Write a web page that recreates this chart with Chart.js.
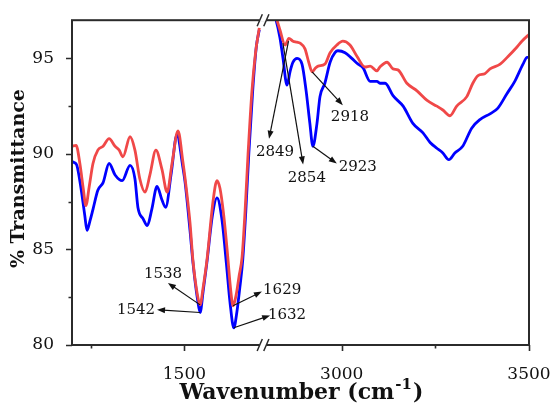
<!DOCTYPE html>
<html>
<head>
<meta charset="utf-8">
<script src="https://cdn.jsdelivr.net/npm/chart.js@4.4.0/dist/chart.umd.min.js"></script>
<style>
  body { margin: 0; background: #fff; }
</style>
</head>
<body>
<canvas id="ftir" width="553" height="403"></canvas>
<script>
// x axis is broken: 1200-1700 then 2800-3500
const breakLow = 1700;
const breakHigh = 2800;
const breakShift = 1080;

const redWaveLow = [1200, 1211, 1221, 1230, 1237, 1246, 1256, 1269, 1283, 1299, 1315, 1326, 1336, 1355, 1368, 1381, 1395, 1408, 1424, 1440, 1454, 1467, 1483, 1496, 1502, 1515, 1523, 1535, 1542, 1550, 1560, 1577, 1587, 1595, 1605, 1615, 1623, 1630, 1638, 1646, 1654, 1662, 1670, 1680, 1690, 1700];
const redLow = [90.4, 90.45, 89.5, 88.2, 87.3, 88.3, 89.5, 90.2, 90.4, 90.8, 90.4, 90.2, 89.85, 90.9, 90.2, 88.7, 88.0, 88.9, 90.2, 89.2, 88.0, 89.5, 91.2, 89.6, 88.7, 86.4, 84.4, 82.6, 82.1, 83.0, 84.4, 87.6, 88.6, 88.2, 86.8, 84.8, 83.0, 82.05, 82.6, 83.6, 84.6, 87.0, 90.0, 93.2, 95.3, 96.6];

const blueWaveLow = [1200, 1206, 1213, 1224, 1234, 1240, 1248, 1256, 1269, 1283, 1299, 1315, 1334, 1355, 1368, 1376, 1390, 1401, 1413, 1427, 1440, 1450, 1465, 1480, 1496, 1502, 1515, 1523, 1535, 1542, 1550, 1560, 1575, 1587, 1600, 1612, 1622, 1632, 1640, 1648, 1656, 1664, 1672, 1682, 1692, 1700];
const blueLow = [89.6, 89.55, 89.4, 88.2, 86.8, 86.0, 86.5, 87.1, 88.1, 88.5, 89.5, 88.9, 88.6, 89.4, 88.7, 87.2, 86.6, 86.25, 87.1, 88.3, 87.6, 87.2, 89.0, 91.0, 89.3, 88.5, 86.0, 84.3, 82.4, 81.7, 82.8, 84.3, 86.8, 87.7, 86.6, 84.3, 82.2, 80.9, 81.7, 83.0, 84.5, 87.0, 90.0, 93.2, 95.6, 96.5];

const redWaveHigh = [2805, 2827, 2835, 2849, 2859, 2870, 2880, 2889, 2902, 2912, 2921, 2930, 2937, 2955, 2969, 2987, 3003, 3022, 3041, 3062, 3076, 3094, 3102, 3121, 3137, 3150, 3174, 3201, 3228, 3254, 3270, 3289, 3307, 3334, 3350, 3364, 3382, 3396, 3423, 3444, 3468, 3481, 3497, 3500];
const redHigh = [97.8, 97.0, 96.5, 95.7, 96.05, 95.9, 95.85, 95.8, 95.5, 94.8, 94.3, 94.5, 94.6, 94.7, 95.3, 95.7, 95.9, 95.7, 95.1, 94.55, 94.6, 94.35, 94.55, 94.8, 94.45, 94.4, 93.7, 93.3, 92.8, 92.5, 92.3, 92.0, 92.5, 93.0, 93.7, 94.1, 94.2, 94.45, 94.7, 95.1, 95.6, 95.9, 96.2, 96.25];

const blueWaveHigh = [2805, 2822, 2835, 2843, 2854, 2862, 2870, 2881, 2894, 2905, 2915, 2923, 2934, 2942, 2955, 2969, 2982, 2990, 3009, 3027, 3044, 3057, 3076, 3094, 3102, 3116, 3137, 3164, 3190, 3217, 3236, 3254, 3270, 3286, 3302, 3323, 3347, 3369, 3396, 3417, 3441, 3462, 3484, 3495, 3500];
const blueHigh = [98.0, 97.2, 96.1, 95.05, 93.6, 94.3, 94.8, 95.0, 94.7, 93.3, 91.6, 90.4, 91.6, 93.0, 93.7, 94.8, 95.3, 95.4, 95.3, 95.0, 94.7, 94.5, 93.8, 93.8, 93.7, 93.7, 93.05, 92.5, 91.6, 91.1, 90.6, 90.3, 90.05, 89.7, 90.05, 90.4, 91.35, 91.8, 92.1, 92.4, 93.15, 93.8, 94.7, 95.05, 95.05];

const xMajorTicks = [1500, 3000, 3500];
const xMinorTicks = [1250, 3250];
const yMajorTicks = [80, 85, 90, 95];
const yMinorTicks = [82.5, 87.5, 92.5];

// peak labels: arrow from a point on the curve to a tip near the label
const peakNotes = [
    { text: '1538', from: [1542, 82.1], tip: [1456, 83.25], at: [1443, 83.7] },
    { text: '1542', from: [1542, 81.7], tip: [1427, 81.85], at: [1371, 81.85] },
    { text: '1629', from: [1630, 82.05], tip: [1707, 82.8], at: [1761, 82.85] },
    { text: '1632', from: [1632, 80.9], tip: [1729, 81.55], at: [1774, 81.55] },
    { text: '2849', from: [2858, 95.9], tip: [2806, 90.8], at: [2822, 90.1] },
    { text: '2854', from: [2843, 95.8], tip: [2897, 89.45], at: [2907, 88.75] },
    { text: '2918', from: [2921, 94.3], tip: [3003, 92.55], at: [3022, 91.95] },
    { text: '2923', from: [2923, 90.4], tip: [2987, 89.5], at: [3043, 89.3] }
];

// map a wavenumber onto the continuous axis
function toAxis(w) {
    return w >= 2000 ? w - breakShift : w;
}
function fromAxis(v) {
    return v > breakLow + 10 ? v + breakShift : v;
}
function points(waves, vals) {
    return waves.map((w, i) => ({ x: toAxis(w), y: vals[i] }));
}

const serif = '"DejaVu Serif", "Liberation Serif", serif';
const redColor = '#f04848';
const blueColor = '#0000ff';

function lineSet(data, color) {
    return {
        data: data,
        borderColor: color,
        borderWidth: 2.8,
        pointRadius: 0,
        fill: false,
        cubicInterpolationMode: 'monotone'
    };
}

// frame, ticks, axis breaks, titles and peak labels
const decorations = {
    id: 'decorations',
    afterDraw(chart) {
        const { ctx, chartArea: a, scales: { x, y } } = chart;
        ctx.save();

        ctx.strokeStyle = '#2b2b2b';
        ctx.lineWidth = 2;
        ctx.strokeRect(a.left, a.top, a.right - a.left, a.bottom - a.top);

        ctx.lineWidth = 1.6;
        ctx.beginPath();
        xMajorTicks.concat(xMinorTicks).forEach(w => {
            const px = Math.round(x.getPixelForValue(toAxis(w))) + 0.5;
            const len = xMajorTicks.includes(w) ? 6 : 3.5;
            ctx.moveTo(px, a.bottom);
            ctx.lineTo(px, a.bottom + len);
        });
        yMajorTicks.concat(yMinorTicks).forEach(v => {
            const py = Math.round(y.getPixelForValue(v)) + 0.5;
            const len = yMajorTicks.includes(v) ? 6 : 3.5;
            ctx.moveTo(a.left, py);
            ctx.lineTo(a.left - len, py);
        });
        ctx.stroke();

        // axis break marks on top and bottom edges
        const b1 = x.getPixelForValue(toAxis(breakLow));
        const b2 = x.getPixelForValue(toAxis(breakHigh));
        const mid = (b1 + b2) / 2;
        [a.top, a.bottom].forEach(edge => {
            ctx.fillStyle = '#fff';
            ctx.fillRect(mid - 3.3, edge - 1.5, 6.6, 3);
            ctx.beginPath();
            [-3.3, 3.3].forEach(d => {
                ctx.moveTo(mid + d - 2.6, edge + 6);
                ctx.lineTo(mid + d + 2.6, edge - 6);
            });
            ctx.lineWidth = 1.5;
            ctx.stroke();
        });

        // peak labels
        ctx.fillStyle = '#111';
        ctx.strokeStyle = '#111';
        ctx.font = '15px ' + serif;
        ctx.textAlign = 'center';
        ctx.textBaseline = 'middle';
        peakNotes.forEach(n => {
            const fx = x.getPixelForValue(toAxis(n.from[0]));
            const fy = y.getPixelForValue(n.from[1]);
            const tx = x.getPixelForValue(toAxis(n.tip[0]));
            const ty = y.getPixelForValue(n.tip[1]);
            const ang = Math.atan2(ty - fy, tx - fx);
            ctx.lineWidth = 1.2;
            ctx.beginPath();
            ctx.moveTo(fx, fy);
            ctx.lineTo(tx - 6 * Math.cos(ang), ty - 6 * Math.sin(ang));
            ctx.stroke();
            ctx.beginPath();
            ctx.moveTo(tx, ty);
            ctx.lineTo(tx - 8 * Math.cos(ang) + 3 * Math.sin(ang), ty - 8 * Math.sin(ang) - 3 * Math.cos(ang));
            ctx.lineTo(tx - 8 * Math.cos(ang) - 3 * Math.sin(ang), ty - 8 * Math.sin(ang) + 3 * Math.cos(ang));
            ctx.closePath();
            ctx.fill();
            ctx.fillText(n.text, x.getPixelForValue(toAxis(n.at[0])), y.getPixelForValue(n.at[1]));
        });

        // x title with superscript
        ctx.fillStyle = '#111';
        ctx.textAlign = 'left';
        ctx.textBaseline = 'alphabetic';
        const big = 'bold 22px ' + serif;
        const small = 'bold 15px ' + serif;
        ctx.font = big;
        const w1 = ctx.measureText('Wavenumber (cm').width;
        const w3 = ctx.measureText(')').width;
        ctx.font = small;
        const w2 = ctx.measureText('-1').width;
        let sx = (a.left + a.right) / 2 - (w1 + w2 + w3) / 2;
        const base = 399;
        ctx.font = big;
        ctx.fillText('Wavenumber (cm', sx, base);
        ctx.font = small;
        ctx.fillText('-1', sx + w1 + 1, base - 10);
        ctx.font = big;
        ctx.fillText(')', sx + w1 + w2 + 2, base);

        // y title
        ctx.translate(24, (a.top + a.bottom) / 2 - 4);
        ctx.rotate(-Math.PI / 2);
        ctx.textAlign = 'center';
        ctx.font = 'bold 19px ' + serif;
        ctx.fillText('% Transmittance', 0, 0);
        ctx.restore();
    }
};

const chart = new Chart(document.getElementById('ftir'), {
    type: 'line',
    data: {
        datasets: [
            lineSet(points(redWaveLow, redLow), redColor),
            lineSet(points(redWaveHigh, redHigh), redColor),
            lineSet(points(blueWaveLow, blueLow), blueColor),
            lineSet(points(blueWaveHigh, blueHigh), blueColor)
        ]
    },
    options: {
        responsive: false,
        animation: false,
        devicePixelRatio: 1,
        layout: { padding: { top: 15, right: 24, left: 0, bottom: 0 } },
        plugins: {
            legend: { display: false },
            tooltip: { enabled: false }
        },
        scales: {
            x: {
                type: 'linear',
                min: toAxis(1200),
                max: toAxis(3500),
                grid: { display: false },
                border: { display: false },
                afterFit: s => { s.height = 58; },
                afterBuildTicks: s => {
                    s.ticks = xMajorTicks.concat(xMinorTicks).map(w => ({ value: toAxis(w) }));
                },
                ticks: {
                    padding: 11,
                    color: '#111',
                    font: { family: serif, size: 17 },
                    maxRotation: 0,
                    autoSkip: false,
                    callback: v => xMajorTicks.includes(fromAxis(v)) ? String(fromAxis(v)) : ''
                }
            },
            y: {
                min: 80,
                max: 97,
                grid: { display: false },
                border: { display: false },
                afterFit: s => { s.width = 72; },
                afterBuildTicks: s => {
                    s.ticks = yMajorTicks.map(v => ({ value: v }));
                },
                ticks: {
                    padding: 10,
                    color: '#111',
                    font: { family: serif, size: 17 }
                }
            }
        }
    },
    plugins: [decorations]
});
</script>
</body>
</html>
